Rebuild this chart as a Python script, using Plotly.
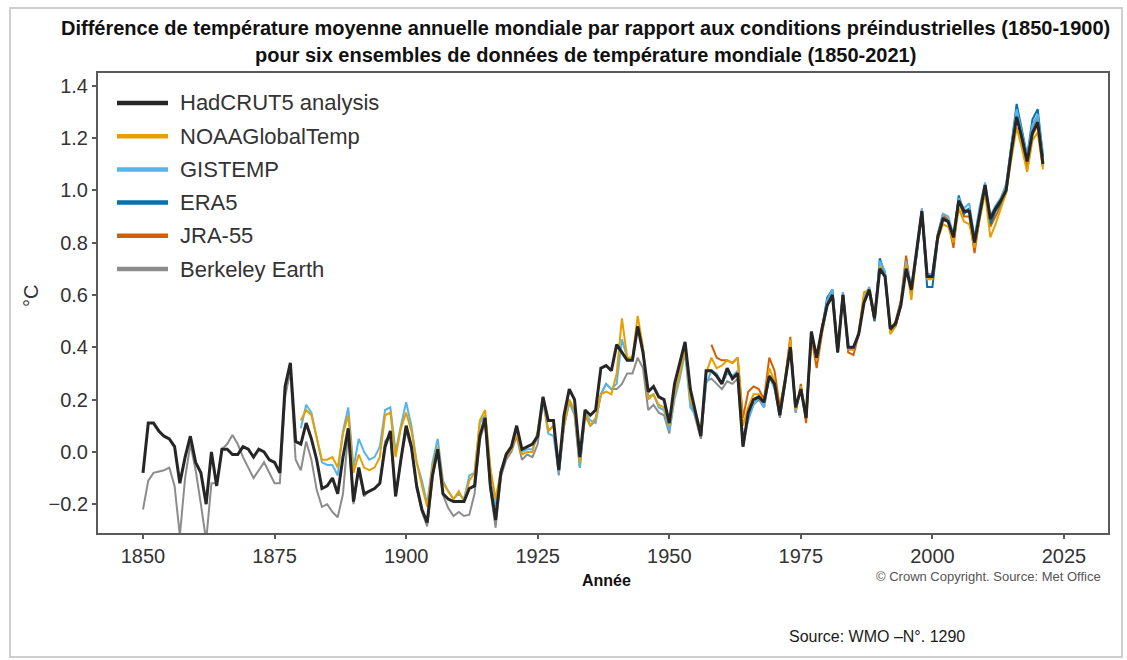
import plotly.graph_objects as go

# ---- data: annual global mean temperature difference from 1850-1900 (°C) ----
years_hadcrut5 = list(range(1850, 2022))
hadcrut5 = [
    -0.08, 0.11, 0.11, 0.08, 0.06, 0.05, 0.02, -0.12, -0.02, 0.06,
    -0.04, -0.08, -0.20, 0.00, -0.13, 0.01, 0.01, -0.01, -0.01, 0.02,
    0.01, -0.02, 0.01, 0.00, -0.03, -0.04, -0.08, 0.25, 0.34, 0.04,
    0.03, 0.11, 0.05, -0.03, -0.14, -0.13, -0.10, -0.16, -0.02, 0.09,
    -0.19, -0.06, -0.16, -0.15, -0.14, -0.12, 0.02, 0.08, -0.17, -0.03,
    0.10, 0.02, -0.13, -0.22, -0.27, -0.09, 0.01, -0.16, -0.18, -0.19,
    -0.19, -0.19, -0.14, -0.13, 0.06, 0.13, -0.13, -0.26, -0.08, -0.01,
    0.02, 0.10, 0.01, 0.02, 0.03, 0.06, 0.21, 0.12, 0.12, -0.07,
    0.14, 0.24, 0.20, -0.02, 0.16, 0.14, 0.16, 0.32, 0.33, 0.31,
    0.41, 0.38, 0.35, 0.35, 0.48, 0.38, 0.23, 0.25, 0.21, 0.20,
    0.11, 0.26, 0.34, 0.42, 0.24, 0.15, 0.06, 0.31, 0.31, 0.29,
    0.26, 0.32, 0.28, 0.30, 0.02, 0.15, 0.20, 0.21, 0.19, 0.29,
    0.26, 0.14, 0.27, 0.40, 0.17, 0.24, 0.13, 0.46, 0.36, 0.47,
    0.56, 0.60, 0.38, 0.60, 0.40, 0.40, 0.45, 0.57, 0.62, 0.51,
    0.70, 0.67, 0.47, 0.49, 0.56, 0.70, 0.62, 0.76, 0.92, 0.67,
    0.67, 0.82, 0.89, 0.88, 0.82, 0.96, 0.92, 0.92, 0.80, 0.91,
    1.02, 0.89, 0.93, 0.96, 1.00, 1.15, 1.28, 1.20, 1.11, 1.22,
    1.26, 1.10,
]

years_noaa = list(range(1880, 2022))
noaa_globaltemp = [
    0.12, 0.16, 0.14, 0.05, -0.03, -0.03, -0.02, -0.06, 0.07, 0.14,
    -0.08, -0.01, -0.06, -0.07, -0.06, -0.02, 0.14, 0.15, -0.02, 0.09,
    0.15, 0.08, -0.04, -0.13, -0.21, -0.06, 0.02, -0.12, -0.15, -0.18,
    -0.15, -0.19, -0.11, -0.08, 0.12, 0.16, -0.06, -0.18, -0.07, -0.02,
    0.01, 0.07, -0.01, 0.00, 0.00, 0.08, 0.21, 0.08, 0.10, -0.06,
    0.10, 0.20, 0.16, -0.04, 0.15, 0.10, 0.13, 0.22, 0.23, 0.22,
    0.30, 0.51, 0.36, 0.36, 0.52, 0.40, 0.20, 0.22, 0.18, 0.17,
    0.10, 0.22, 0.30, 0.40, 0.20, 0.15, 0.08, 0.30, 0.36, 0.32,
    0.33, 0.35, 0.34, 0.36, 0.10, 0.17, 0.22, 0.22, 0.19, 0.32,
    0.27, 0.15, 0.27, 0.43, 0.16, 0.25, 0.14, 0.45, 0.35, 0.46,
    0.56, 0.60, 0.39, 0.60, 0.39, 0.39, 0.46, 0.61, 0.62, 0.51,
    0.71, 0.67, 0.45, 0.48, 0.56, 0.72, 0.58, 0.76, 0.91, 0.66,
    0.66, 0.81, 0.87, 0.86, 0.80, 0.93, 0.88, 0.87, 0.78, 0.89,
    0.99, 0.82, 0.87, 0.93, 0.99, 1.12, 1.24, 1.16, 1.07, 1.19,
    1.22, 1.08,
]

years_gistemp = list(range(1880, 2022))
gistemp = [
    0.09, 0.18, 0.15, 0.05, -0.04, -0.05, -0.05, -0.09, 0.08, 0.17,
    -0.06, 0.05, 0.00, -0.03, -0.02, 0.02, 0.16, 0.17, 0.00, 0.10,
    0.19, 0.10, -0.04, -0.11, -0.20, -0.04, 0.05, -0.11, -0.15, -0.18,
    -0.16, -0.18, -0.09, -0.08, 0.11, 0.14, -0.07, -0.21, -0.07, -0.01,
    0.02, 0.08, 0.00, 0.01, 0.01, 0.06, 0.20, 0.07, 0.06, -0.08,
    0.10, 0.19, 0.15, -0.06, 0.15, 0.12, 0.11, 0.22, 0.26, 0.24,
    0.26, 0.43, 0.36, 0.36, 0.48, 0.39, 0.21, 0.22, 0.17, 0.16,
    0.08, 0.20, 0.28, 0.38, 0.17, 0.14, 0.06, 0.26, 0.31, 0.30,
    0.26, 0.30, 0.29, 0.31, 0.05, 0.12, 0.18, 0.21, 0.17, 0.29,
    0.24, 0.14, 0.26, 0.41, 0.15, 0.25, 0.13, 0.46, 0.36, 0.47,
    0.58, 0.62, 0.39, 0.61, 0.40, 0.39, 0.45, 0.59, 0.63, 0.52,
    0.73, 0.69, 0.47, 0.49, 0.57, 0.73, 0.63, 0.77, 0.93, 0.68,
    0.68, 0.83, 0.91, 0.90, 0.83, 0.97, 0.93, 0.95, 0.82, 0.94,
    1.03, 0.90, 0.94, 0.97, 1.02, 1.17, 1.31, 1.22, 1.13, 1.25,
    1.29, 1.14,
]

years_era5 = list(range(1979, 2022))
era5 = [
    0.47, 0.59, 0.62, 0.38, 0.60, 0.39, 0.40, 0.45, 0.59, 0.62,
    0.50, 0.74, 0.68, 0.46, 0.48, 0.56, 0.72, 0.61, 0.75, 0.91,
    0.63, 0.63, 0.81, 0.89, 0.88, 0.81, 0.98, 0.91, 0.93, 0.79,
    0.92, 1.02, 0.87, 0.92, 0.95, 1.00, 1.17, 1.33, 1.23, 1.13,
    1.27, 1.31, 1.13,
]

years_jra55 = list(range(1958, 2022))
jra55 = [
    0.41, 0.36,
    0.35, 0.35, 0.34, 0.36, 0.13, 0.23, 0.25, 0.24, 0.20, 0.36,
    0.31, 0.17, 0.28, 0.44, 0.15, 0.26, 0.11, 0.44, 0.32, 0.45,
    0.56, 0.59, 0.38, 0.61, 0.38, 0.37, 0.45, 0.59, 0.61, 0.50,
    0.71, 0.67, 0.46, 0.50, 0.58, 0.75, 0.61, 0.76, 0.93, 0.67,
    0.66, 0.83, 0.91, 0.88, 0.78, 0.96, 0.90, 0.90, 0.76, 0.90,
    1.01, 0.86, 0.90, 0.94, 0.99, 1.14, 1.29, 1.19, 1.08, 1.21,
    1.25, 1.09,
]

years_berkeley = list(range(1850, 2022))
berkeley_earth = [
    -0.22, -0.11, -0.08, -0.075, -0.07, -0.06, -0.13, -0.32, -0.10, 0.03,
    -0.07, -0.20, -0.34, -0.12, -0.12, 0.01, 0.03, 0.065, 0.03, -0.02,
    -0.06, -0.10, -0.07, -0.04, -0.08, -0.12, -0.12, 0.21, 0.31, -0.03,
    -0.07, 0.04, -0.03, -0.145, -0.21, -0.20, -0.23, -0.25, -0.16, 0.08,
    -0.20, -0.07, -0.17, -0.15, -0.14, -0.12, 0.04, 0.065, -0.17, -0.03,
    0.08, 0.01, -0.14, -0.23, -0.285, -0.10, 0.01, -0.165, -0.215, -0.245,
    -0.23, -0.245, -0.24, -0.16, 0.045, 0.115, -0.145, -0.29, -0.095, -0.03,
    0.00, 0.06, -0.03, -0.01, -0.02, 0.03, 0.20, 0.08, 0.10, -0.09,
    0.10, 0.19, 0.14, -0.06, 0.14, 0.10, 0.12, 0.22, 0.26, 0.24,
    0.24, 0.26, 0.30, 0.30, 0.36, 0.32, 0.16, 0.18, 0.15, 0.14,
    0.07, 0.22, 0.30, 0.39, 0.20, 0.12, 0.05, 0.27, 0.28, 0.26,
    0.24, 0.27, 0.26, 0.28, 0.02, 0.13, 0.18, 0.20, 0.17, 0.29,
    0.25, 0.13, 0.26, 0.41, 0.16, 0.24, 0.13, 0.45, 0.36, 0.47,
    0.56, 0.61, 0.40, 0.61, 0.40, 0.39, 0.46, 0.58, 0.62, 0.52,
    0.71, 0.67, 0.47, 0.49, 0.57, 0.71, 0.62, 0.76, 0.92, 0.68,
    0.68, 0.83, 0.90, 0.89, 0.82, 0.97, 0.92, 0.93, 0.81, 0.93,
    1.02, 0.90, 0.94, 0.97, 1.02, 1.17, 1.29, 1.22, 1.12, 1.24,
    1.28, 1.12,
]

x_ticks = [1850, 1875, 1900, 1925, 1950, 1975, 2000, 2025]
y_ticks = [-0.2, 0.0, 0.2, 0.4, 0.6, 0.8, 1.0, 1.2, 1.4]

# legend order (top to bottom) and line styles
series = [
    ("HadCRUT5 analysis", years_hadcrut5, hadcrut5, "#262626", 3.0),
    ("NOAAGlobalTemp", years_noaa, noaa_globaltemp, "#e69f00", 2.0),
    ("GISTEMP", years_gistemp, gistemp, "#56b4e9", 2.0),
    ("ERA5", years_era5, era5, "#0072b2", 2.0),
    ("JRA-55", years_jra55, jra55, "#d55e00", 2.0),
    ("Berkeley Earth", years_berkeley, berkeley_earth, "#8c8c8c", 2.0),
]
for _, xs, ys, _, _ in series:
    assert len(xs) == len(ys)

# ---- plot-area geometry (pixels) ----
W, H = 1127, 660
L, R, T, B = 98, 1108, 73, 533

def px(x):
    return (x - L) / (R - L)

def py(y):
    return (B - y) / (B - T)

fig = go.Figure()

# draw Berkeley first and HadCRUT5 last so the black line sits on top
for name, xs, ys, color, width in reversed(series):
    fig.add_trace(go.Scatter(
        x=xs, y=ys, mode="lines", name=name,
        line=dict(color=color, width=width),
        showlegend=False,
    ))

axis_font = dict(family="Liberation Sans, Arial, sans-serif", size=20, color="#333333")

fig.update_layout(
    width=W, height=H,
    margin=dict(l=L, r=W - R, t=T, b=H - B, pad=0),
    paper_bgcolor="white", plot_bgcolor="white",
    showlegend=False,
    xaxis=dict(
        range=[1841.45, 2033.36], tickvals=x_ticks,
        showline=True, linecolor="#5a5a5a", linewidth=2, mirror=True,
        ticks="outside", ticklen=4, tickwidth=2, tickcolor="#5a5a5a",
        showgrid=False, zeroline=False, tickfont=axis_font,
    ),
    yaxis=dict(
        range=[-0.31, 1.448], tickvals=y_ticks, tickformat=".1f",
        showline=True, linecolor="#5a5a5a", linewidth=2, mirror=True,
        ticks="outside", ticklen=4, tickwidth=2, tickcolor="#5a5a5a",
        showgrid=False, zeroline=False, tickfont=axis_font,
    ),
)

annotations = []
shapes = []

# two-line bold title
title_font = dict(family="Liberation Sans Narrow, Liberation Sans, Arial, sans-serif",
                  size=20, color="#111111")
annotations.append(dict(
    text="<b>Différence de température moyenne annuelle mondiale par rapport aux conditions préindustrielles (1850-1900)</b>",
    x=px(585), y=py(28), xref="paper", yref="paper",
    xanchor="center", yanchor="middle", showarrow=False, font=title_font))
annotations.append(dict(
    text="<b>pour six ensembles de données de température mondiale (1850-2021)</b>",
    x=px(585), y=py(55), xref="paper", yref="paper",
    xanchor="center", yanchor="middle", showarrow=False, font=title_font))

# axis titles
annotations.append(dict(
    text="°C", x=px(31), y=py(296), xref="paper", yref="paper",
    xanchor="center", yanchor="middle", textangle=-90, showarrow=False,
    font=dict(family="Liberation Sans, Arial, sans-serif", size=20, color="#333333")))
annotations.append(dict(
    text="<b>Année</b>", x=px(606), y=py(580), xref="paper", yref="paper",
    xanchor="center", yanchor="middle", showarrow=False,
    font=dict(family="Liberation Sans, Arial, sans-serif", size=16, color="#111111")))

# credits
annotations.append(dict(
    text="© Crown Copyright. Source: Met Office", x=px(1103), y=py(576),
    xref="paper", yref="paper", xanchor="right", yanchor="middle", showarrow=False,
    font=dict(family="Liberation Sans, Arial, sans-serif", size=13, color="#555555")))
annotations.append(dict(
    text="Source: WMO –N°. 1290", x=px(787), y=py(636),
    xref="paper", yref="paper", xanchor="left", yanchor="middle", showarrow=False,
    font=dict(family="Liberation Sans, Arial, sans-serif", size=16, color="#1a1a1a")))

# legend drawn inside the plot area
for i, (name, _, _, color, width) in enumerate(series):
    yy = 103 + i * 33.2
    shapes.append(dict(
        type="line", xref="paper", yref="paper",
        x0=px(117), x1=px(168), y0=py(yy), y1=py(yy),
        line=dict(color=color, width=4.5)))
    annotations.append(dict(
        text=name, x=px(178), y=py(yy), xref="paper", yref="paper",
        xanchor="left", yanchor="middle", showarrow=False,
        font=dict(family="Liberation Sans, Arial, sans-serif", size=22, color="#333333")))

# light frame around the whole figure
shapes.append(dict(
    type="rect", xref="paper", yref="paper",
    x0=px(10), x1=px(1122), y0=py(657), y1=py(8),
    line=dict(color="#cfcfcf", width=2), fillcolor="rgba(0,0,0,0)", layer="below"))

fig.update_layout(annotations=annotations, shapes=shapes)

fig.write_html("out.html")
